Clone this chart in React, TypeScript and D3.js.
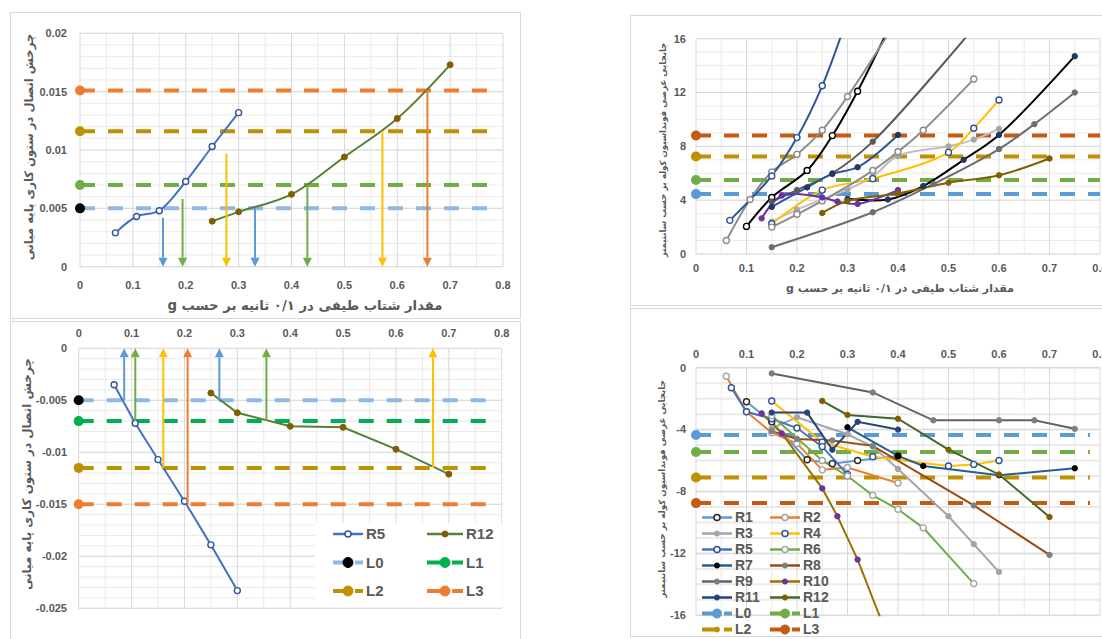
import { useEffect, useRef } from "react";
import * as d3 from "d3";

type Pt = [number, number];

// x axis: spectral acceleration (g)
const accTicks = [0, 0.1, 0.2, 0.3, 0.4, 0.5, 0.6, 0.7, 0.8];
const levelNames = ["L0", "L1", "L2", "L3"];
const runNames = ["R1", "R2", "R3", "R4", "R5", "R6", "R7", "R8", "R9", "R10", "R11", "R12"];

// top-left: joint rotation, positive side
const rotPosTicks = [0, 0.005, 0.01, 0.015, 0.02];
const rotPosR5: Pt[] = [[0.067, 0.0029], [0.107, 0.0043], [0.15, 0.0048], [0.2, 0.0073], [0.25, 0.0103], [0.3, 0.0132]];
const rotPosR12: Pt[] = [[0.25, 0.0039], [0.3, 0.0047], [0.4, 0.0062], [0.5, 0.0094], [0.6, 0.0127], [0.7, 0.0173]];
const rotPosLevels = [0.005, 0.007, 0.0116, 0.0151];
const rotPosArrowX = [0.157, 0.194, 0.277, 0.331, 0.43, 0.572, 0.657];
const rotPosArrowFrom = [0.0042, 0.0058, 0.0097, 0.005, 0.007, 0.0116, 0.0151];
const rotPosArrowLevel = [0, 1, 2, 0, 1, 2, 3];

// bottom-left: joint rotation, negative side
const rotNegTicks = [0, -0.005, -0.01, -0.015, -0.02, -0.025];
const rotNegR5: Pt[] = [[0.067, -0.0035], [0.107, -0.0072], [0.15, -0.0107], [0.2, -0.0147], [0.25, -0.0189], [0.3, -0.0233]];
const rotNegR12: Pt[] = [[0.25, -0.0043], [0.3, -0.0062], [0.4, -0.0075], [0.5, -0.0076], [0.6, -0.0097], [0.7, -0.0121]];
const rotNegLevels = [-0.005, -0.007, -0.0115, -0.015];
const rotNegArrowX = [0.086, 0.107, 0.16, 0.206, 0.266, 0.355, 0.67];
const rotNegArrowFrom = [-0.005, -0.007, -0.0115, -0.015, -0.005, -0.007, -0.0115];
const rotNegArrowLevel = [0, 1, 2, 3, 0, 1, 2];

// top-right: foundation displacement (cm), positive side
const dispPosTicks = [0, 4, 8, 12, 16];
const dispPosR1: Pt[] = [[0.1, 2.05], [0.15, 4.2], [0.22, 6.2], [0.27, 8.8], [0.32, 12.1], [0.4, 18.2]];
const dispPosR2: Pt[] = [[0.06, 1.0], [0.107, 4.05], [0.15, 6.1], [0.2, 7.4], [0.25, 9.2], [0.3, 11.7], [0.4, 17.5]];
const dispPosR3: Pt[] = [[0.15, 2.4], [0.2, 3.3], [0.3, 4.8], [0.35, 5.75], [0.4, 7.3], [0.5, 8.0], [0.55, 8.5], [0.6, 9.3]];
const dispPosR4: Pt[] = [[0.15, 2.25], [0.25, 4.75], [0.35, 5.6], [0.5, 7.55], [0.55, 9.35], [0.6, 11.45]];
const dispPosR5: Pt[] = [[0.067, 2.5], [0.15, 5.8], [0.2, 8.65], [0.25, 12.5], [0.3, 17.6]];
const dispPosR6: Pt[] = [[0.15, 2.0], [0.2, 2.95], [0.25, 3.95], [0.35, 6.2], [0.4, 7.6], [0.45, 9.2], [0.55, 13.0]];
const dispPosR7: Pt[] = [[0.3, 4.1], [0.38, 4.05], [0.45, 5.05], [0.53, 7.0], [0.6, 8.85], [0.75, 14.7]];
const dispPosR8: Pt[] = [[0.15, 3.9], [0.2, 4.75], [0.27, 6.0], [0.35, 8.35], [0.55, 16.8]];
const dispPosR9: Pt[] = [[0.15, 0.5], [0.35, 3.1], [0.47, 5.2], [0.6, 7.8], [0.67, 9.65], [0.75, 12.0]];
const dispPosR10: Pt[] = [[0.13, 2.65], [0.17, 4.35], [0.25, 4.2], [0.28, 3.9], [0.32, 3.72], [0.4, 4.75]];
const dispPosR11: Pt[] = [[0.15, 3.5], [0.22, 4.95], [0.27, 5.95], [0.32, 6.45], [0.4, 8.85]];
const dispPosR12: Pt[] = [[0.25, 3.05], [0.3, 3.95], [0.4, 4.5], [0.5, 5.3], [0.6, 5.85], [0.7, 7.1]];
const dispPosLevels = [4.45, 5.5, 7.25, 8.8];

// bottom-right: foundation displacement (cm), negative side
const dispNegTicks = [0, -4, -8, -12, -16];
const dispNegR1: Pt[] = [[0.1, -2.2], [0.15, -3.5], [0.22, -5.95], [0.27, -6.2], [0.32, -6.0], [0.4, -5.7]];
const dispNegR2: Pt[] = [[0.06, -0.55], [0.1, -2.85], [0.15, -4.2], [0.2, -4.9], [0.25, -6.6], [0.3, -6.45], [0.4, -7.45]];
const dispNegR3: Pt[] = [[0.15, -3.9], [0.2, -3.2], [0.3, -4.3], [0.35, -5.1], [0.4, -6.55], [0.5, -9.6], [0.55, -11.4], [0.6, -13.2]];
const dispNegR4: Pt[] = [[0.15, -2.15], [0.25, -4.8], [0.35, -5.75], [0.5, -6.35], [0.55, -6.25], [0.6, -6.0]];
const dispNegR5: Pt[] = [[0.07, -1.3], [0.1, -2.85], [0.15, -3.3], [0.2, -3.9], [0.25, -5.1], [0.3, -6.9]];
const dispNegR6: Pt[] = [[0.15, -3.1], [0.25, -6.0], [0.3, -7.0], [0.35, -8.25], [0.4, -9.15], [0.45, -10.35], [0.55, -13.95]];
const dispNegR7: Pt[] = [[0.3, -3.85], [0.4, -5.7], [0.45, -6.35], [0.6, -6.95], [0.75, -6.5]];
const dispNegR8: Pt[] = [[0.15, -4.1], [0.2, -4.6], [0.27, -4.7], [0.35, -5.05], [0.55, -8.9], [0.7, -12.1]];
const dispNegR9: Pt[] = [[0.15, -0.37], [0.35, -1.6], [0.47, -3.4], [0.6, -3.4], [0.67, -3.4], [0.75, -3.95]];
const dispNegR10: Pt[] = [[0.13, -2.95], [0.17, -4.25], [0.25, -7.8], [0.28, -9.6], [0.32, -12.4], [0.4, -19.1]];
const dispNegR11: Pt[] = [[0.15, -2.9], [0.22, -2.9], [0.27, -5.3], [0.32, -3.5], [0.4, -4.0]];
const dispNegR12: Pt[] = [[0.25, -2.15], [0.3, -3.05], [0.4, -3.3], [0.5, -5.3], [0.6, -6.9], [0.7, -9.65]];
const dispNegLevels = [-4.35, -5.45, -7.1, -8.75];

const dispPos = [dispPosR1, dispPosR2, dispPosR3, dispPosR4, dispPosR5, dispPosR6, dispPosR7, dispPosR8, dispPosR9, dispPosR10, dispPosR11, dispPosR12];
const dispNeg = [dispNegR1, dispNegR2, dispNegR3, dispNegR4, dispNegR5, dispNegR6, dispNegR7, dispNegR8, dispNegR9, dispNegR10, dispNegR11, dispNegR12];

// styles: [line, marker, hollow]
const negStyle: [string, string, boolean][] = [
  ["#5B9BD5", "#262626", true], ["#ED7D31", "#A5A5A5", true], ["#A5A5A5", "#A5A5A5", false],
  ["#FFC000", "#2F5597", true], ["#4472C4", "#2F5597", true], ["#70AD47", "#A5A5A5", true],
  ["#255E91", "#000000", false], ["#9E480E", "#7F7F7F", false], ["#636363", "#7F7F7F", false],
  ["#997300", "#7030A0", false], ["#264478", "#264478", false], ["#43682B", "#7F6000", false],
];
const posStyle: [string, string, boolean][] = [
  ["#000000", "#000000", true], ["#8C8C8C", "#8C8C8C", true], ["#BFBFBF", "#A5A5A5", false],
  ["#FFC000", "#2F5597", true], ["#2F5597", "#2F5597", true], ["#8C8C8C", "#8C8C8C", true],
  ["#000000", "#203864", false], ["#595959", "#595959", false], ["#6E6E6E", "#6E6E6E", false],
  ["#7030A0", "#7030A0", false], ["#2F5597", "#203864", false], ["#7F6000", "#7F6000", false],
];

const TXT = "#595959";
const FONT = "'Liberation Sans', Arial, sans-serif";
const FA = "'DejaVu Sans', sans-serif";
const arrowColors = ["#5B9BD5", "#70AD47", "#FFC000", "#ED7D31"];
const rightLevelColors = ["#5B9BD5", "#70AD47", "#BF9000", "#C55A11"];

interface Series { data: Pt[]; line: string; mk: string; hollow: boolean; r: number }
interface Panel {
  xr: [number, number]; yDomain: [number, number]; yRange: [number, number];
  yTicks: number[]; minorY: number; minorW: number; xLabelY: number; yLabelX: number;
  series: Series[]; curve: d3.CurveFactory;
  levels: number[]; levelColors: string[]; levelMarks: string[]; levelEnd: number;
  arrows: { x: number; from: number; color: string }[];
  clip: string;
}

const fmt = (d: number) => String(Number(d.toPrecision(6)));

function drawPanel(svg: d3.Selection<SVGSVGElement, unknown, null, undefined>, p: Panel) {
  const x = d3.scaleLinear().domain([0, 0.8]).range(p.xr);
  const y = d3.scaleLinear().domain(p.yDomain).range(p.yRange);
  const g = svg.append("g");
  const lo = Math.min(...p.yDomain), hi = Math.max(...p.yDomain);

  const minorYs = d3.range(Math.round((hi - lo) / p.minorY) + 1).map((i) => lo + i * p.minorY);
  const minorXs = d3.range(8).map((i) => 0.05 + i * 0.1);
  g.selectAll(".my").data(minorYs).join("line").attr("class", "my")
    .attr("x1", p.xr[0]).attr("x2", p.xr[1]).attr("y1", (d) => y(d)).attr("y2", (d) => y(d))
    .attr("stroke", "#EBEBEB").attr("stroke-width", p.minorW);
  g.selectAll(".mx").data(minorXs).join("line").attr("class", "mx")
    .attr("x1", (d) => x(d)).attr("x2", (d) => x(d)).attr("y1", p.yRange[0]).attr("y2", p.yRange[1])
    .attr("stroke", "#EBEBEB");
  g.selectAll(".gy").data(p.yTicks).join("line").attr("class", "gy")
    .attr("x1", p.xr[0]).attr("x2", p.xr[1]).attr("y1", (d) => y(d)).attr("y2", (d) => y(d))
    .attr("stroke", "#D9D9D9");
  g.selectAll(".gx").data(accTicks).join("line").attr("class", "gx")
    .attr("x1", (d) => x(d)).attr("x2", (d) => x(d)).attr("y1", p.yRange[0]).attr("y2", p.yRange[1])
    .attr("stroke", "#D9D9D9");

  g.selectAll(".tx").data(accTicks).join("text").attr("class", "tx")
    .attr("x", (d) => x(d)).attr("y", p.xLabelY).attr("dy", "0.35em").attr("text-anchor", "middle")
    .attr("font-family", FONT).attr("font-size", 11).attr("font-weight", "bold").attr("fill", TXT)
    .text((d) => fmt(d));
  g.selectAll(".ty").data(p.yTicks).join("text").attr("class", "ty")
    .attr("x", p.yLabelX).attr("y", (d) => y(d)).attr("dy", "0.35em").attr("text-anchor", "end")
    .attr("font-family", FONT).attr("font-size", 11).attr("font-weight", "bold").attr("fill", TXT)
    .text((d) => fmt(d));

  const yTop = Math.min(...p.yRange), yBot = Math.max(...p.yRange);
  svg.append("clipPath").attr("id", p.clip).append("rect")
    .attr("x", p.xr[0] - 12).attr("y", yTop - 1).attr("width", p.xr[1] - p.xr[0] + 30).attr("height", yBot - yTop + 2);
  const c = g.append("g").attr("clip-path", `url(#${p.clip})`);

  // horizontal level lines
  p.levels.forEach((v, i) => {
    c.append("line").attr("x1", x(0)).attr("x2", x(p.levelEnd)).attr("y1", y(v)).attr("y2", y(v))
      .attr("stroke", p.levelColors[i]).attr("stroke-width", 4).attr("stroke-dasharray", "15 13");
    c.append("circle").attr("cx", x(0)).attr("cy", y(v)).attr("r", 5).attr("fill", p.levelMarks[i]);
  });

  const line = d3.line<Pt>().x((d) => x(d[0])).y((d) => y(d[1])).curve(p.curve);
  p.series.forEach((s) => {
    c.append("path").datum(s.data).attr("d", line).attr("fill", "none")
      .attr("stroke", s.line).attr("stroke-width", 2);
  });
  p.series.forEach((s) => {
    c.selectAll(null).data(s.data).join("circle")
      .attr("cx", (d) => x(d[0])).attr("cy", (d) => y(d[1])).attr("r", s.r)
      .attr("fill", s.hollow ? "#fff" : s.mk).attr("stroke", s.mk).attr("stroke-width", s.hollow ? 1.4 : 1);
  });

  p.arrows.forEach((a) => {
    const tip = y(0), start = y(a.from);
    const dir = Math.sign(tip - start);
    const base = tip - dir * 9;
    c.append("line").attr("x1", x(a.x)).attr("x2", x(a.x)).attr("y1", start).attr("y2", base)
      .attr("stroke", a.color).attr("stroke-width", 2);
    c.append("path").attr("d", `M${x(a.x) - 4.5},${base}L${x(a.x) + 4.5},${base}L${x(a.x)},${tip}Z`)
      .attr("fill", a.color);
  });
}

function faTitle(svg: d3.Selection<SVGSVGElement, unknown, null, undefined>, txt: string, cx: number, cy: number, width: number, rotate: boolean) {
  const t = svg.append("text")
    .attr("transform", rotate ? `translate(${cx},${cy}) rotate(-90)` : `translate(${cx},${cy})`)
    .attr("text-anchor", "middle").attr("dy", "0.35em").attr("direction", "rtl")
    .attr("font-family", FA).attr("font-weight", "bold").attr("font-size", 14).attr("fill", TXT)
    .text(txt);
  const len = (t.node() as SVGTextElement).getComputedTextLength();
  if (len > 0) t.attr("font-size", (14 * width) / len);
}

function legendItem(g: d3.Selection<SVGGElement, unknown, null, undefined>, x0: number, x1: number, yy: number,
  color: string, mk: string, hollow: boolean, r: number, dashed: boolean, label: string, fs: number) {
  const mid = (x0 + x1) / 2;
  g.append("line").attr("x1", x0).attr("x2", x1).attr("y1", yy).attr("y2", yy)
    .attr("stroke", color).attr("stroke-width", dashed ? 4 : 2.5)
    .attr("stroke-dasharray", dashed ? `${mid - x0 + 2} 5 ${x1 - mid}` : null);
  g.append("circle").attr("cx", mid).attr("cy", yy).attr("r", r)
    .attr("fill", hollow ? "#fff" : mk).attr("stroke", mk).attr("stroke-width", hollow ? 1.5 : 1);
  g.append("text").attr("x", x1 + 3).attr("y", yy).attr("dy", "0.35em")
    .attr("font-family", FONT).attr("font-size", fs).attr("fill", TXT).attr("font-weight", "bold").text(label);
}

export default function App() {
  const ref = useRef<SVGSVGElement>(null);

  useEffect(() => {
    if (!ref.current) return;
    const svg = d3.select(ref.current);
    svg.selectAll("*").remove();

    // chart frames
    const frames: [number, number, number, number][] = [[10.5, 12.5, 510, 306], [10.5, 321.5, 510, 330], [630.5, 15.5, 500, 290], [630.5, 308.5, 500, 328]];
    frames.forEach((f) => svg.append("rect").attr("x", f[0]).attr("y", f[1]).attr("width", f[2]).attr("height", f[3])
      .attr("fill", "none").attr("stroke", "#D9D9D9"));

    const tlLevelColors = ["#8EB8E5", "#70AD47", "#BF9000", "#ED7D31"];
    const tlLevelMarks = ["#000000", "#70AD47", "#BF9000", "#ED7D31"];
    const blLevelColors = ["#8EB8E5", "#00B050", "#BF9000", "#ED7D31"];
    const blLevelMarks = ["#000000", "#00B050", "#BF9000", "#ED7D31"];
    const leftSeries = (r5: Pt[], r12: Pt[]): Series[] => [
      { data: r5, line: "#4472C4", mk: "#2F5597", hollow: true, r: 3 },
      { data: r12, line: "#548235", mk: "#7F6000", hollow: false, r: 3 },
    ];

    drawPanel(svg, {
      xr: [80, 503], yDomain: [0, 0.02], yRange: [266.7, 33.3], yTicks: rotPosTicks, minorY: 0.001, minorW: 1,
      xLabelY: 285, yLabelX: 67, series: leftSeries(rotPosR5, rotPosR12), curve: d3.curveCatmullRom,
      levels: rotPosLevels, levelColors: tlLevelColors, levelMarks: tlLevelMarks, levelEnd: 0.78,
      arrows: rotPosArrowX.map((v, i) => ({ x: v, from: rotPosArrowFrom[i], color: arrowColors[rotPosArrowLevel[i]] })),
      clip: "c-tl",
    });
    drawPanel(svg, {
      xr: [78.7, 501.7], yDomain: [0, -0.025], yRange: [348.3, 608.3], yTicks: rotNegTicks, minorY: 0.001, minorW: 1,
      xLabelY: 332.7, yLabelX: 67, series: leftSeries(rotNegR5, rotNegR12), curve: d3.curveLinear,
      levels: rotNegLevels, levelColors: blLevelColors, levelMarks: blLevelMarks, levelEnd: 0.78,
      arrows: rotNegArrowX.map((v, i) => ({ x: v, from: rotNegArrowFrom[i], color: arrowColors[rotNegArrowLevel[i]] })),
      clip: "c-bl",
    });
    const rightSeries = (data: Pt[][], st: [string, string, boolean][]): Series[] =>
      data.map((d, i) => ({ data: d, line: st[i][0], mk: st[i][1], hollow: st[i][2], r: st[i][2] ? 3 : 2.7 }));
    drawPanel(svg, {
      xr: [696, 1100], yDomain: [0, 16], yRange: [254, 38.7], yTicks: dispPosTicks, minorY: 1, minorW: 1,
      xLabelY: 267.7, yLabelX: 686, series: rightSeries(dispPos, posStyle), curve: d3.curveCatmullRom,
      levels: dispPosLevels, levelColors: rightLevelColors, levelMarks: rightLevelColors, levelEnd: 0.8,
      arrows: [], clip: "c-tr",
    });
    drawPanel(svg, {
      xr: [696, 1100], yDomain: [0, -16], yRange: [367.7, 615.3], yTicks: dispNegTicks, minorY: 1, minorW: 2,
      xLabelY: 354, yLabelX: 686, series: rightSeries(dispNeg, negStyle), curve: d3.curveLinear,
      levels: dispNegLevels, levelColors: rightLevelColors, levelMarks: rightLevelColors, levelEnd: 0.78,
      arrows: [], clip: "c-br",
    });

    // bottom-left legend
    const lg = svg.append("g");
    lg.append("rect").attr("x", 315).attr("y", 523).attr("width", 187).attr("height", 84).attr("fill", "#fff");
    legendItem(lg, 333, 363, 534, "#4472C4", "#2F5597", true, 3, false, "R5", 15);
    legendItem(lg, 427, 463, 534, "#548235", "#7F6000", false, 3, false, "R12", 15);
    [0, 1, 2, 3].forEach((i) => {
      const col = i % 2, row = Math.floor(i / 2);
      legendItem(lg, col ? 427 : 333, col ? 463 : 363, 562.5 + row * 28.5, blLevelColors[i], blLevelMarks[i], false, 5, true, levelNames[i], 15);
    });

    // bottom-right legend
    const rg = svg.append("g");
    runNames.forEach((n, i) => {
      const col = i % 2, row = Math.floor(i / 2);
      const st = negStyle[i];
      legendItem(rg, col ? 770 : 702, col ? 800 : 732, 517.5 + row * 16, st[0], st[1], st[2], st[2] ? 3 : 2.6, false, n, 14);
    });
    levelNames.forEach((n, i) => {
      const col = i % 2, row = Math.floor(i / 2);
      legendItem(rg, col ? 770 : 702, col ? 800 : 732, 613.5 + row * 16, rightLevelColors[i], rightLevelColors[i], false, i === 2 ? 2.5 : 4.5, true, n, 14);
    });

    // axis titles
    const xTitle = "مقدار شتاب طیفی در ۰/۱ ثانیه بر حسب g";
    const rotTitle = "چرخش اتصال در ستون کاری پایه میانی";
    const dispTitle = "جابجایی عرضی فونداسیون کوله بر حسب سانتیمتر";
    faTitle(svg, xTitle, 305, 305, 275, false);
    faTitle(svg, rotTitle, 29, 147, 227, true);
    faTitle(svg, rotTitle, 27, 474, 232, true);
    faTitle(svg, xTitle, 900, 288, 228, false);
    faTitle(svg, dispTitle, 663, 150, 215, true);
    faTitle(svg, dispTitle, 662, 489, 218, true);
  }, []);

  return (
    <svg ref={ref} width={1102} height={639}
      style={{ position: "absolute", left: 0, top: 0, background: "#fff" }} />
  );
}
